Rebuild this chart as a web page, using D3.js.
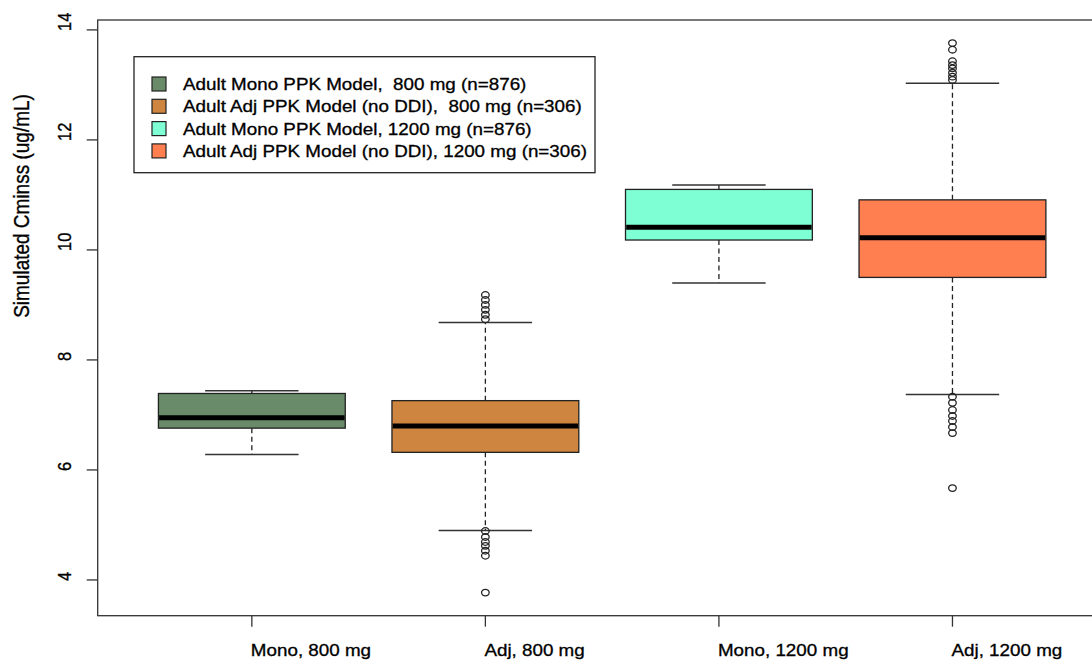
<!DOCTYPE html>
<html>
<head>
<meta charset="utf-8">
<script src="https://cdn.jsdelivr.net/npm/d3@7"></script>
<style>
  html, body { margin: 0; padding: 0; background: #fff; }
  svg { display: block; }
  text { font-family: "Liberation Sans", Arial, sans-serif; fill: #000; white-space: pre;
         stroke: #000; stroke-width: 0.3px; }
</style>
</head>
<body>
<svg id="chart" width="1092" height="660"></svg>
<script>
// Group labels along the x axis
const categories = ["Mono, 800 mg", "Adj, 800 mg", "Mono, 1200 mg", "Adj, 1200 mg"];

// Legend entries, one per group
const legendLabels = [
  "Adult Mono PPK Model,  800 mg (n=876)",
  "Adult Adj PPK Model (no DDI),  800 mg (n=306)",
  "Adult Mono PPK Model, 1200 mg (n=876)",
  "Adult Adj PPK Model (no DDI), 1200 mg (n=306)"
];

// Five-number summaries per group (ug/mL)
const whiskerLow  = [6.28, 4.90, 9.40, 7.37];
const quartile1   = [6.76, 6.32, 10.18, 9.50];
const medians     = [6.95, 6.80, 10.41, 10.22];
const quartile3   = [7.39, 7.26, 11.10, 10.91];
const whiskerHigh = [7.44, 8.68, 11.18, 13.03];

// Points beyond the whiskers
const outliers = [
  [],
  [9.18, 9.09, 9.00, 8.91, 8.82, 8.74, 4.89, 4.78, 4.69, 4.62, 4.53, 4.44, 3.77],
  [],
  [13.76, 13.64, 13.43, 13.36, 13.30, 13.22, 13.15, 13.09,
   7.33, 7.22, 7.09, 6.98, 6.89, 6.78, 6.67, 5.67]
];

const yTicks = [4, 6, 8, 10, 12, 14];

const fills = ["#698B69", "#CD853F", "#7FFFD4", "#FF7F50"];

const svg = d3.select("#chart");
const SX = 1.14; // horizontal stretch applied to glyphs

// Scales: groups at 1..4, padded like R's boxplot
const x = d3.scaleLinear().domain([0.34, 4.66]).range([97.7, 1106.6]);
const y = d3.scaleLinear().domain([3.35, 14.18]).range([615.7, 20]);
const boxHalf = 0.4, capHalf = 0.2;

// Plot frame
svg.append("rect")
  .attr("x", x(0.34)).attr("y", y(14.18))
  .attr("width", x(4.66) - x(0.34)).attr("height", y(3.35) - y(14.18))
  .attr("fill", "none").attr("stroke", "#333").attr("stroke-width", 1.3);

// Y axis ticks and labels
const yAxis = svg.append("g");
yAxis.selectAll("line").data(yTicks).join("line")
  .attr("x1", x(0.34) - 11).attr("x2", x(0.34))
  .attr("y1", d => y(d)).attr("y2", d => y(d))
  .attr("stroke", "#333").attr("stroke-width", 1.3);
yAxis.selectAll("text").data(yTicks).join("text")
  .attr("transform", d => `translate(71,${y(d) + 1}) scale(${SX},1) rotate(-90)`)
  .attr("font-size", 16.5)
  .text(d => d);

// Y axis title
svg.append("text")
  .attr("transform", `translate(28.5,206) scale(${SX},1) rotate(-90)`)
  .attr("text-anchor", "middle")
  .attr("font-size", 19)
  .text("Simulated Cminss (ug/mL)");

// X axis ticks and labels
const xAxis = svg.append("g");
xAxis.selectAll("line").data(categories).join("line")
  .attr("x1", (d, i) => x(i + 1)).attr("x2", (d, i) => x(i + 1))
  .attr("y1", y(3.35)).attr("y2", y(3.35) + 11)
  .attr("stroke", "#333").attr("stroke-width", 1.3);
xAxis.selectAll("text").data(categories).join("text")
  .attr("transform", (d, i) => `translate(${x(i + 1) - 1},656) scale(${SX},1)`)
  .attr("font-size", 16.5)
  .text(d => d);

// Box plots
const groups = svg.append("g").selectAll("g").data(categories).join("g");

// Dashed whiskers
groups.append("line")
  .attr("x1", (d, i) => x(i + 1)).attr("x2", (d, i) => x(i + 1))
  .attr("y1", (d, i) => y(quartile3[i])).attr("y2", (d, i) => y(whiskerHigh[i]))
  .attr("stroke", "#222").attr("stroke-width", 1.3).attr("stroke-dasharray", "5,3.5");
groups.append("line")
  .attr("x1", (d, i) => x(i + 1)).attr("x2", (d, i) => x(i + 1))
  .attr("y1", (d, i) => y(quartile1[i])).attr("y2", (d, i) => y(whiskerLow[i]))
  .attr("stroke", "#222").attr("stroke-width", 1.3).attr("stroke-dasharray", "5,3.5");

// Whisker caps
groups.append("line")
  .attr("x1", (d, i) => x(i + 1 - capHalf)).attr("x2", (d, i) => x(i + 1 + capHalf))
  .attr("y1", (d, i) => y(whiskerHigh[i])).attr("y2", (d, i) => y(whiskerHigh[i]))
  .attr("stroke", "#333").attr("stroke-width", 1.5);
groups.append("line")
  .attr("x1", (d, i) => x(i + 1 - capHalf)).attr("x2", (d, i) => x(i + 1 + capHalf))
  .attr("y1", (d, i) => y(whiskerLow[i])).attr("y2", (d, i) => y(whiskerLow[i]))
  .attr("stroke", "#333").attr("stroke-width", 1.5);

// Boxes
groups.append("rect")
  .attr("x", (d, i) => x(i + 1 - boxHalf))
  .attr("y", (d, i) => y(quartile3[i]))
  .attr("width", (d, i) => x(i + 1 + boxHalf) - x(i + 1 - boxHalf))
  .attr("height", (d, i) => y(quartile1[i]) - y(quartile3[i]))
  .attr("fill", (d, i) => fills[i])
  .attr("stroke", "#222").attr("stroke-width", 1.3);

// Medians
groups.append("line")
  .attr("x1", (d, i) => x(i + 1 - boxHalf) + 0.7).attr("x2", (d, i) => x(i + 1 + boxHalf) - 0.7)
  .attr("y1", (d, i) => y(medians[i])).attr("y2", (d, i) => y(medians[i]))
  .attr("stroke", "#000").attr("stroke-width", 5);

// Outlier points
groups.each(function(d, i) {
  d3.select(this).selectAll("ellipse").data(outliers[i]).join("ellipse")
    .attr("cx", x(i + 1)).attr("cy", v => y(v))
    .attr("rx", 3.8).attr("ry", 3.3)
    .attr("fill", "none").attr("stroke", "#222").attr("stroke-width", 1.3);
});

// Legend
const legend = svg.append("g");
legend.append("rect")
  .attr("x", 134).attr("y", 56.7).attr("width", 461).attr("height", 116)
  .attr("fill", "#fff").attr("stroke", "#222").attr("stroke-width", 1.3);
const rows = legend.selectAll("g.row").data(legendLabels).join("g")
  .attr("class", "row")
  .attr("transform", (d, i) => `translate(0,${84 + i * 22.3})`);
rows.append("rect")
  .attr("x", 152).attr("y", -7).attr("width", 14).attr("height", 14)
  .attr("fill", (d, i) => fills[i]).attr("stroke", "#222").attr("stroke-width", 1.2);
rows.append("text")
  .attr("transform", `translate(183,6) scale(${SX},1)`)
  .attr("font-size", 16.5)
  .text(d => d);
</script>
</body>
</html>
